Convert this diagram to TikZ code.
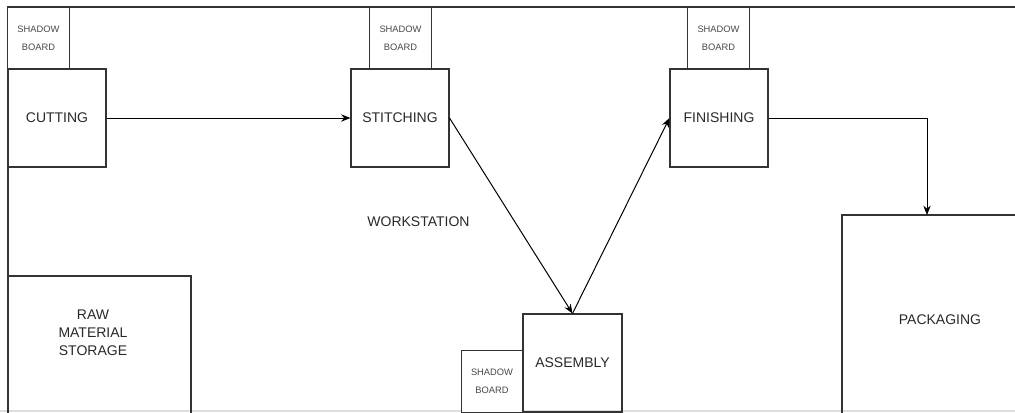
\documentclass[tikz,border=0pt]{standalone}
\usepackage{fontspec}
\setmainfont{Liberation Sans}
\usepackage{tikz}
\usetikzlibrary{arrows.meta,positioning}
\definecolor{edge}{RGB}{51, 51, 51}
\definecolor{ink}{RGB}{40, 40, 40}
\definecolor{rule}{RGB}{221, 221, 221}

\tikzset{
    station/.style={draw=edge, line width=0.8pt, minimum width=73.5pt, minimum height=73.5pt,
        inner sep=0pt, text=ink, font=\fontsize{10.5}{13.5}\selectfont, align=center},
    board/.style={draw=edge, line width=0.8pt, fill=white, minimum width=46pt, minimum height=46.5pt,
        inner sep=0pt, text=ink!85, font=\fontsize{7}{13.5}\selectfont, align=center},
    area/.style={draw=edge, line width=0.8pt, inner sep=0pt, text=ink,
        font=\fontsize{10.5}{13.5}\selectfont, align=center},
    flow/.style={->, line width=0.75pt, black},
}

\begin{document}
\begin{tikzpicture}[x=0.75pt, y=-0.75pt, >={Stealth[length=7pt, width=5.5pt]}]
    \useasboundingbox (0,0) rectangle (1015,412);
    \clip (0,0) rectangle (1015,412);

    % Frame of the floor
    \coordinate (tl) at (8,7);
    \coordinate (tr) at (1015,7);
    \coordinate (bl) at (8,412);
    \draw[rule, line width=1pt] (0,411) -- (1015,411);
    \draw[edge, line width=1.2pt] (bl) -- (tl) -- (tr);

    % Stations
    \node[station] (cutting) at (57,118) {CUTTING};
    \node[station] (stitching) at (400,118) {STITCHING};
    \node[station] (finishing) at (719,118) {FINISHING};
    \node[station, minimum width=74.25pt] (assembly) at (572.5,363) {ASSEMBLY};

    % Shadow boards
    \node[board] (sbcut) at (38.5,38) {SHADOW\\BOARD};
    \node[board] (sbstitch) at (400.5,38) {SHADOW\\BOARD};
    \node[board] (sbfinish) at (718.5,38) {SHADOW\\BOARD};
    \node[board] (sbassembly) at (492,381.5) {SHADOW\\BOARD};

    % Storage and packaging areas
    \node[area, minimum width=137.25pt, minimum height=112.5pt] (raw) at (99.5,351) {};
    \node[text=ink, font=\fontsize{10.5}{13.5}\selectfont, align=center] (rawlabel) at (93,333) {RAW\\MATERIAL\\STORAGE};
    \node[area, minimum width=147pt, minimum height=157.5pt] (packaging) at (940,320) {PACKAGING};

    \node[text=ink, font=\fontsize{10.5}{13.5}\selectfont] (workstation) at (418.5,222) {WORKSTATION};

    % Material flow
    \coordinate (packin) at (927,215);
    \draw[flow] (cutting) -- (stitching);
    \draw[flow] (stitching.east) -- (assembly.north);
    \draw[flow] (assembly.north) -- (finishing.west);
    \draw[flow] (finishing.east) -| (packin);
\end{tikzpicture}
\end{document}
